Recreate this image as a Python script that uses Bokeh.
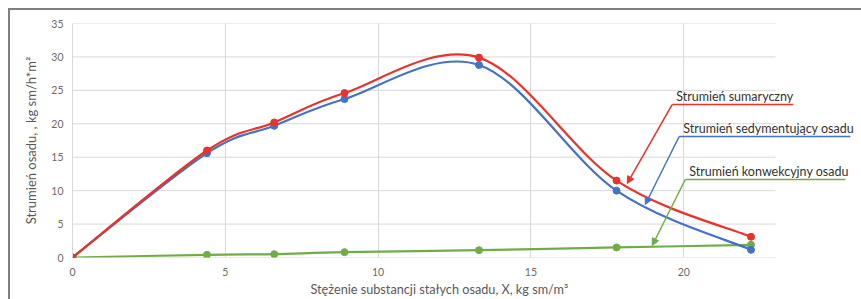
from bokeh.plotting import figure
from bokeh.models import Range1d, FixedTicker, Arrow, NormalHead, Label, Title
from bokeh.embed import file_html
from bokeh.resources import INLINE

# ---- data ----
x_conc = [0, 4.4, 6.6, 8.9, 13.3, 17.8, 22.2]
flux_total = [0, 16.0, 20.2, 24.6, 29.9, 11.5, 3.1]
flux_sed = [0, 15.6, 19.7, 23.7, 28.8, 10.0, 1.15]
flux_conv = [0, 0.4, 0.5, 0.8, 1.1, 1.5, 1.9]
x_ticks = [0, 5, 10, 15, 20]
y_ticks = [0, 5, 10, 15, 20, 25, 30, 35]
series_names = ["Strumień sumaryczny", "Strumień sedymentujący osadu", "Strumień konwekcyjny osadu"]
x_title = "Stężenie substancji stałych osadu, X, kg sm/m³"
y_title = "Strumień osadu, , kg sm/h*m²"

X_AXIS_MAX = 23          # end of the plot area (grid) in data units
RED = "#e8322a"
BLUE = "#4472c4"
GREEN = "#70ad47"
GRID = "#d9d9d9"
FONT = "Lato"


def smooth_segments(xs, ys):
    """Bezier control points for an Excel-like smoothed line (Catmull-Rom)."""
    n = len(xs)
    out = {k: [] for k in ("x0", "y0", "x1", "y1", "cx0", "cy0", "cx1", "cy1")}
    for i in range(n - 1):
        xp, yp = (xs[i - 1], ys[i - 1]) if i > 0 else (xs[i], ys[i])
        xn, yn = (xs[i + 2], ys[i + 2]) if i + 2 < n else (xs[i + 1], ys[i + 1])
        out["x0"].append(xs[i]); out["y0"].append(ys[i])
        out["x1"].append(xs[i + 1]); out["y1"].append(ys[i + 1])
        out["cx0"].append(xs[i] + (xs[i + 1] - xp) / 6.0)
        out["cy0"].append(ys[i] + (ys[i + 1] - yp) / 6.0)
        out["cx1"].append(xs[i + 1] - (xn - xs[i]) / 6.0)
        out["cy1"].append(ys[i + 1] - (yn - ys[i]) / 6.0)
    return out


# frame extends to the right edge so the callout texts are not clipped;
# the visible plot area (grid) ends at X_AXIS_MAX like the original
x_end = X_AXIS_MAX + 86 / 30.55
p = figure(width=861, height=299, output_backend="svg", toolbar_location=None,
           x_range=Range1d(0, x_end), y_range=Range1d(0, 35),
           min_border_left=72, min_border_right=0, min_border_top=23, min_border_bottom=42,
           styles={"background-color": "white",
                   "background-image": "linear-gradient(#7f7f7f,#7f7f7f), linear-gradient(#7f7f7f,#7f7f7f)",
                   "background-size": "2px 100%, 100% 2px",
                   "background-position": "8px 8px, 8px 8px",
                   "background-repeat": "no-repeat"})
p.outline_line_color = None
p.background_fill_color = None
p.border_fill_color = None

for ax, ticks in ((p.xaxis, x_ticks), (p.yaxis, y_ticks)):
    ax.ticker = FixedTicker(ticks=ticks)
    ax.major_tick_line_color = None
    ax.minor_tick_line_color = None
    ax.major_tick_out = 0
    ax.major_tick_in = 0
    ax.major_label_text_font = FONT
    ax.major_label_text_font_size = "10.5px"
    ax.major_label_text_color = "#6a6a6a"
    ax.axis_label_text_font = FONT
    ax.axis_label_text_font_size = "13px"
    ax.axis_label_text_font_style = "normal"
    ax.axis_label_text_color = "#595959"

p.xaxis.axis_line_color = None
p.yaxis.axis_line_color = GRID
p.yaxis.axis_label = y_title
p.xaxis.major_label_standoff = 10
p.yaxis.major_label_standoff = 9
p.yaxis.axis_label_standoff = 9

p.add_layout(Title(text=x_title, align="left", offset=238, standoff=0,
                   text_font=FONT, text_font_size="12.7px", text_font_style="normal",
                   text_color="#595959"), "below")

p.xgrid.ticker = FixedTicker(ticks=x_ticks[1:])
p.xgrid.grid_line_color = GRID
p.ygrid.visible = False
p.segment(x0=[0] * len(y_ticks), x1=[X_AXIS_MAX] * len(y_ticks), y0=y_ticks, y1=y_ticks,
          line_color=GRID, line_width=1)

for ys, col in ((flux_conv, GREEN), (flux_sed, BLUE), (flux_total, RED)):
    seg = smooth_segments(x_conc, ys)
    p.bezier(line_color=col, line_width=2.2, **seg)
    p.scatter(x_conc, ys, size=7, fill_color=col, line_color=col)

# leader annotations (underline + arrow to curve)
callouts = [
    (series_names[0], RED, 19.62, 22.88, 23.58, 18.15, 11.07),
    (series_names[1], BLUE, 19.85, 18.10, 25.45, 18.74, 7.93),
    (series_names[2], GREEN, 20.05, 11.67, 25.29, 18.97, 1.79),
]
for text, col, ux, uy, uend, tx, ty in callouts:
    p.add_layout(Arrow(x_start=ux, y_start=uy, x_end=uend, y_end=uy, end=None,
                       line_color=col, line_width=1.5))
    p.add_layout(Arrow(x_start=ux, y_start=uy, x_end=tx, y_end=ty,
                       end=NormalHead(size=7, fill_color=col, line_color=col),
                       line_color=col, line_width=1.5))
    p.add_layout(Label(x=ux, y=uy, text=text, x_offset=4, y_offset=8,
                       text_font=FONT, text_font_size="12.5px", text_color="#333333",
                       text_baseline="alphabetic"))

open("out.html", "w").write(file_html(p, INLINE))
